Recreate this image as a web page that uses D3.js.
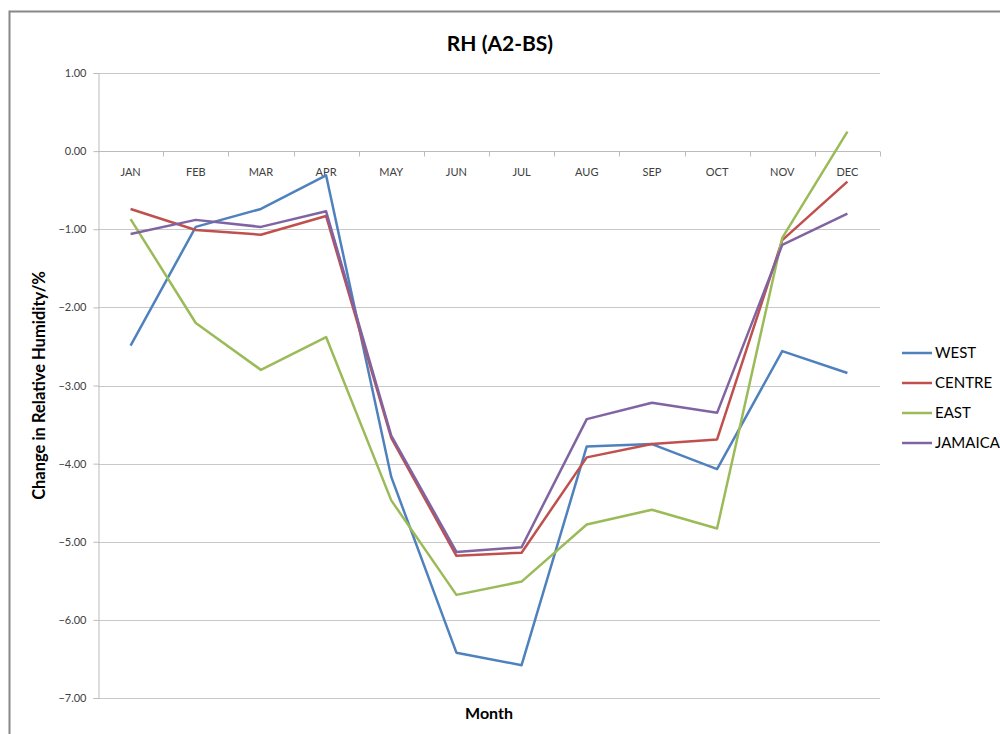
<!DOCTYPE html>
<html>
<head>
<meta charset="utf-8">
<script src="https://cdn.jsdelivr.net/npm/d3@7"></script>
<style>
  body { margin: 0; background: #fff; }
  svg text { font-family: Lato, "Open Sans", sans-serif; }
</style>
</head>
<body>
<div id="chart-area"></div>
<script>
// RH (A2-BS) - change in relative humidity per month

const months = ['JAN', 'FEB', 'MAR', 'APR', 'MAY', 'JUN', 'JUL', 'AUG', 'SEP', 'OCT', 'NOV', 'DEC'];
const west = [-2.49, -0.97, -0.74, -0.31, -4.17, -6.42, -6.58, -3.78, -3.75, -4.07, -2.56, -2.84];
const centre = [-0.74, -1.01, -1.07, -0.83, -3.67, -5.18, -5.14, -3.92, -3.75, -3.69, -1.14, -0.39];
const east = [-0.87, -2.20, -2.80, -2.38, -4.47, -5.68, -5.51, -4.78, -4.59, -4.83, -1.11, 0.25];
const jamaica = [-1.06, -0.88, -0.97, -0.77, -3.64, -5.13, -5.07, -3.43, -3.22, -3.35, -1.20, -0.80];
const yTicks = [1, 0, -1, -2, -3, -4, -5, -6, -7];

const seriesNames = ['WEST', 'CENTRE', 'EAST', 'JAMAICA'];
const seriesColors = ['#4F81BD', '#C0504D', '#9BBB59', '#8064A2'];
const series = [west, centre, east, jamaica].map((values, i) => ({
  name: seriesNames[i],
  color: seriesColors[i],
  values: values
}));

const W = 1000, H = 734;
const plot = { left: 98, right: 880, top: 73, bottom: 698 };

const svg = d3.select('#chart-area').append('svg')
  .attr('width', W)
  .attr('height', H);

// outer frame (only top and left visible)
svg.append('path')
  .attr('d', `M9.5,${H} V11.5 H${W}`)
  .attr('fill', 'none')
  .attr('stroke', '#888')
  .attr('stroke-width', 2);

const x = d3.scaleBand()
  .domain(months)
  .range([plot.left, plot.right]);

const y = d3.scaleLinear()
  .domain([-7, 1])
  .range([plot.bottom, plot.top]);

// gridlines
svg.append('g')
  .selectAll('line')
  .data(yTicks)
  .enter().append('line')
    .attr('x1', plot.left)
    .attr('x2', plot.right)
    .attr('y1', d => Math.round(y(d)) + 0.5)
    .attr('y2', d => Math.round(y(d)) + 0.5)
    .attr('stroke', '#c8c8c8')
    .attr('stroke-width', 1);

// y axis
const yAxis = svg.append('g')
  .attr('transform', `translate(${plot.left + 0.5},0)`)
  .call(d3.axisLeft(y).tickValues(yTicks).tickFormat(d3.format('.2f')).tickSize(5).tickPadding(7));
yAxis.select('.domain').attr('stroke', '#bbb');
yAxis.selectAll('.tick line').attr('stroke', '#bbb');
yAxis.selectAll('text')
  .attr('fill', '#404040')
  .style('font-size', '11px');

// x axis sitting on the zero line, ticks between categories
const zeroY = Math.round(y(0)) + 0.5;
const xAxisG = svg.append('g');
xAxisG.append('line')
  .attr('x1', plot.left).attr('x2', plot.right)
  .attr('y1', zeroY).attr('y2', zeroY)
  .attr('stroke', '#bbb');
xAxisG.selectAll('.sep')
  .data(months.slice(1).concat(['end']))
  .enter().append('line')
    .attr('class', 'sep')
    .attr('x1', (d, i) => Math.round(plot.left + (i + 1) * x.bandwidth()) + 0.5)
    .attr('x2', (d, i) => Math.round(plot.left + (i + 1) * x.bandwidth()) + 0.5)
    .attr('y1', zeroY)
    .attr('y2', zeroY + 5)
    .attr('stroke', '#bbb');
xAxisG.selectAll('text')
  .data(months)
  .enter().append('text')
    .attr('x', d => x(d) + x.bandwidth() / 2)
    .attr('y', zeroY + 24)
    .attr('text-anchor', 'middle')
    .attr('fill', '#404040')
    .style('font-size', '11px')
    .text(d => d);

// lines
const line = d3.line()
  .x((d, i) => x(months[i]) + x.bandwidth() / 2)
  .y(d => y(d));

svg.append('g')
  .selectAll('path')
  .data(series)
  .enter().append('path')
    .attr('d', d => line(d.values))
    .attr('fill', 'none')
    .attr('stroke', d => d.color)
    .attr('stroke-width', 2.5)
    .attr('stroke-linejoin', 'round');

// title
svg.append('text')
  .attr('x', 500)
  .attr('y', 51)
  .attr('text-anchor', 'middle')
  .style('font-size', '21px')
  .style('font-weight', 'bold')
  .attr('fill', '#000')
  .text('RH (A2-BS)');

// axis titles
svg.append('text')
  .attr('transform', `translate(45,${(plot.top + plot.bottom) / 2}) rotate(-90)`)
  .attr('text-anchor', 'middle')
  .style('font-size', '16.5px')
  .style('font-weight', 'bold')
  .text('Change in Relative Humidity/%');

svg.append('text')
  .attr('x', 489)
  .attr('y', 719)
  .attr('text-anchor', 'middle')
  .style('font-size', '16px')
  .style('font-weight', 'bold')
  .text('Month');

// legend
const legend = svg.append('g')
  .attr('transform', 'translate(902,353)');
const items = legend.selectAll('g')
  .data(series)
  .enter().append('g')
    .attr('transform', (d, i) => `translate(0,${i * 30})`);
items.append('line')
  .attr('x1', 0).attr('x2', 30)
  .attr('stroke', d => d.color)
  .attr('stroke-width', 2.5);
items.append('text')
  .attr('x', 33)
  .attr('y', 5)
  .style('font-size', '15px')
  .attr('fill', '#000')
  .text(d => d.name);
</script>
</body>
</html>
